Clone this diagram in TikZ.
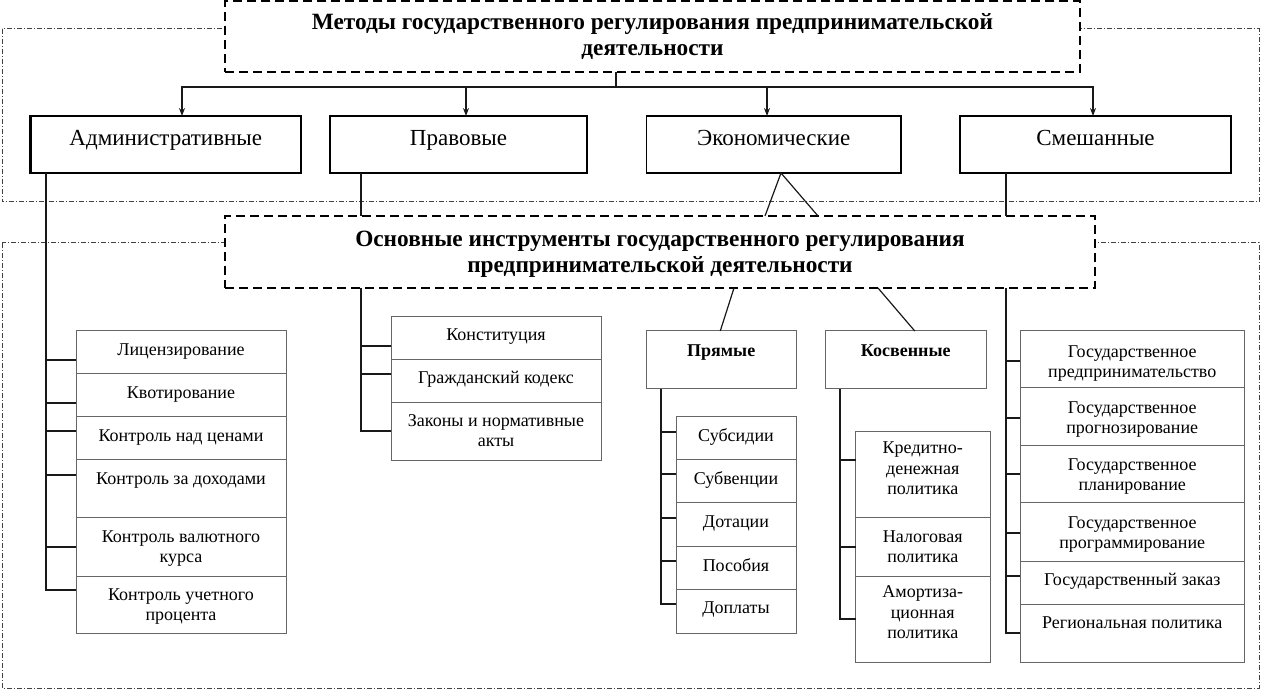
\documentclass[tikz,border=0pt]{standalone}
\usepackage{fontspec}
\setmainfont{Liberation Serif}
\usetikzlibrary{arrows.meta}
\newcommand{\myitem}[7]{%
  \node[lbox, minimum width=#4pt, minimum height=#5pt] (#1) at (#2,#3) {};
  \node[ltxt] (#1t) at ([yshift=-#6pt]#1.north) {\strut #7};}
\begin{document}
\begin{tikzpicture}[x=1pt,y=-1pt,
  outerframe/.style={draw=black!75, line width=1pt, dash pattern=on 5pt off 2pt on 1pt off 2pt},
  tbox/.style={draw=black, line width=2pt, dash pattern=on 9pt off 5pt, fill=white, inner sep=0, outer sep=0, anchor=north west},
  mbox/.style={draw=black, line width=1.1pt, fill=white, inner sep=0, outer sep=0, anchor=north west},
  lbox/.style={draw=black!60, line width=1pt, fill=white, inner sep=0, outer sep=0, anchor=north west},
  ttxt/.style={font=\bfseries\fontsize{23.3}{26.5}\selectfont, inner sep=0, anchor=north, align=center},
  mtxt/.style={font=\fontsize{23}{27}\selectfont, inner sep=0, anchor=north, align=center},
  btxt/.style={font=\bfseries\fontsize{18}{20.5}\selectfont, inner sep=0, anchor=north, align=center},
  ltxt/.style={font=\fontsize{18}{20.5}\selectfont, inner sep=0, anchor=north, align=center},
  conn/.style={draw=black!90, line width=1.2pt},
  arr/.style={conn, -{Stealth[length=8pt,width=6pt]}}
]
\useasboundingbox (0,0) rectangle (1262,692);
% outer dash-dot frames
\draw[outerframe] (2,29) rectangle (1259,202);
\draw[outerframe] (2,243) rectangle (1259,688);

% title boxes
\node[tbox, minimum width=855pt, minimum height=71pt] (t1) at (225,1) {};
\node[ttxt] (t1t) at ([yshift=-9.75pt]t1.north) {\strut Методы государственного регулирования предпринимательской\\деятельности};
\node[tbox, minimum width=870pt, minimum height=72pt] (t2) at (225,216) {};
\node[ttxt] (t2t) at ([yshift=-11.45pt]t2.north) {\strut Основные инструменты государственного регулирования\\предпринимательской деятельности};

% method boxes
\node[mbox, line width=2.6pt, minimum width=270.4pt, minimum height=57pt] (adm) at (30.6,116) {};
\node[mtxt] (admt) at ([yshift=-10.1pt]adm.north) {\strut Административные};
\node[mbox, minimum width=257pt, minimum height=57pt] (prav) at (330,116) {};
\node[mtxt] (pravt) at ([yshift=-10.1pt]prav.north) {\strut Правовые};
\node[mbox, minimum width=254.5pt, minimum height=57pt] (ekon) at (646.5,116) {};
\node[mtxt] (ekont) at ([yshift=-10.1pt]ekon.north) {\strut Экономические};
\node[mbox, minimum width=271pt, minimum height=57pt] (smesh) at (960,116) {};
\node[mtxt] (smesht) at ([yshift=-10.1pt]smesh.north) {\strut Смешанные};

% direct / indirect
\node[lbox, minimum width=149.5pt, minimum height=58pt] (pr) at (646.5,331) {};
\node[btxt] (prt) at ([yshift=-10.65pt]pr.north) {\strut Прямые};
\node[lbox, minimum width=161.5pt, minimum height=58pt] (kos) at (825,331) {};
\node[btxt] (kost) at ([yshift=-10.65pt]kos.north) {\strut Косвенные};

% administrative list
\myitem{a1}{76}{331}{210}{43}{9.65}{Лицензирование}
\myitem{a2}{76}{374}{210}{43}{9.65}{Квотирование}
\myitem{a3}{76}{417}{210}{43}{9.65}{Контроль над ценами}
\myitem{a4}{76}{460}{210}{58}{9.65}{Контроль за доходами}
\myitem{a5}{76}{518}{210}{58}{9.65}{Контроль валютного\\курса}
\myitem{a6}{76}{576}{210}{57}{9.65}{Контроль учетного\\процента}

% legal list
\myitem{p1}{391}{317}{210}{43}{8.65}{Конституция}
\myitem{p2}{391}{360}{210}{43}{8.65}{Гражданский кодекс}
\myitem{p3}{391}{403}{210}{58}{8.65}{Законы и нормативные\\акты}

% direct list
\myitem{d1}{676}{417}{120}{43}{10.15}{Субсидии}
\myitem{d2}{676}{460}{120}{43}{10.15}{Субвенции}
\myitem{d3}{676}{503}{120}{44}{10.15}{Дотации}
\myitem{d4}{676}{547}{120}{42}{10.15}{Пособия}
\myitem{d5}{676}{589}{120}{44}{10.15}{Доплаты}

% indirect list
\myitem{k1}{855.5}{432}{134.5}{86}{7.15}{Кредитно-\\денежная\\политика}
\myitem{k2}{855.5}{518}{134.5}{58}{9.65}{Налоговая\\политика}
\myitem{k3}{855.5}{576}{134.5}{86}{7.15}{Амортиза-\\ционная\\политика}

% mixed list
\myitem{s1}{1020}{331}{224.5}{57}{11.65}{Государственное\\предпринимательство}
\myitem{s2}{1020}{388}{224.5}{58}{10.65}{Государственное\\прогнозирование}
\myitem{s3}{1020}{446}{224.5}{57}{9.65}{Государственное\\планирование}
\myitem{s4}{1020}{503}{224.5}{58}{10.65}{Государственное\\программирование}
\myitem{s5}{1020}{561}{224.5}{43}{9.65}{Государственный заказ}
\myitem{s6}{1020}{604}{224.5}{58}{9.65}{Региональная политика}

% top bus with arrows
\coordinate (bus) at ([xshift=-36.5pt,yshift=-15pt]t1.south);
\draw[conn] ([xshift=-36.5pt]t1.south) -- (bus);
\draw[arr] (bus) -| ([xshift=16.2pt]adm.north);
\draw[arr] (bus) -| ([xshift=7.5pt]prav.north);
\draw[arr] (bus) -| ([xshift=-6.75pt]ekon.north);
\draw[arr] (bus) -| ([xshift=-2.5pt]smesh.north);

% administrative stem and ticks
\coordinate (admstem) at ([xshift=15.4pt]adm.south west);
\draw[conn] ([yshift=-7.5pt]a1.west) -| (admstem);
\draw[conn] ([yshift=-7.5pt]a2.west) -| (admstem);
\draw[conn] ([yshift=7.5pt]a3.west) -| (admstem);
\draw[conn] ([yshift=14pt]a4.west) -| (admstem);
\draw[conn] (a5.west) -| (admstem);
\draw[conn] ([yshift=14.5pt]a6.west) -| (admstem);

% legal stem
\coordinate (pravstem) at ([xshift=31pt]prav.south west);
\draw[conn] (pravstem) -- (pravstem |- t2.north);
\coordinate (pravlow) at (pravstem |- t2.south);
\draw[conn] ([yshift=-7.5pt]p1.west) -| (pravlow);
\draw[conn] ([yshift=7.5pt]p2.west) -| (pravlow);
\draw[conn] ([yshift=1pt]p3.west) -| (pravlow);

% economic split
\draw[conn] ([xshift=105pt]t2.north) -- ([xshift=7.25pt]ekon.south) -- ([xshift=158pt]t2.north);
\draw[conn] ([xshift=74pt]t2.south) -- ([xshift=-1pt]pr.north);
\draw[conn] ([xshift=218pt]t2.south) -- ([xshift=9pt]kos.north);

% direct stem
\coordinate (prstem) at ([xshift=14.5pt]pr.south west);
\draw[conn] ([yshift=6.5pt]d1.west) -| (prstem);
\draw[conn] ([yshift=7.5pt]d2.west) -| (prstem);
\draw[conn] ([yshift=7pt]d3.west) -| (prstem);
\draw[conn] ([yshift=7pt]d4.west) -| (prstem);
\draw[conn] ([yshift=7pt]d5.west) -| (prstem);

% indirect stem
\coordinate (kosstem) at ([xshift=15pt]kos.south west);
\draw[conn] ([yshift=15pt]k1.west) -| (kosstem);
\draw[conn] (k2.west) -| (kosstem);
\draw[conn] (k3.west) -| (kosstem);

% mixed stem
\coordinate (smstem) at ([xshift=46pt]smesh.south west);
\draw[conn] (smstem) -- (smstem |- t2.north);
\coordinate (smlow) at (smstem |- t2.south);
\draw[conn] ([yshift=-1.5pt]s1.west) -| (smlow);
\draw[conn] ([yshift=-1pt]s2.west) -| (smlow);
\draw[conn] ([yshift=0.5pt]s3.west) -| (smlow);
\draw[conn] ([yshift=-1pt]s4.west) -| (smlow);
\draw[conn] ([yshift=6.5pt]s5.west) -| (smlow);
\draw[conn] (s6.west) -| (smlow);
\end{tikzpicture}
\end{document}
